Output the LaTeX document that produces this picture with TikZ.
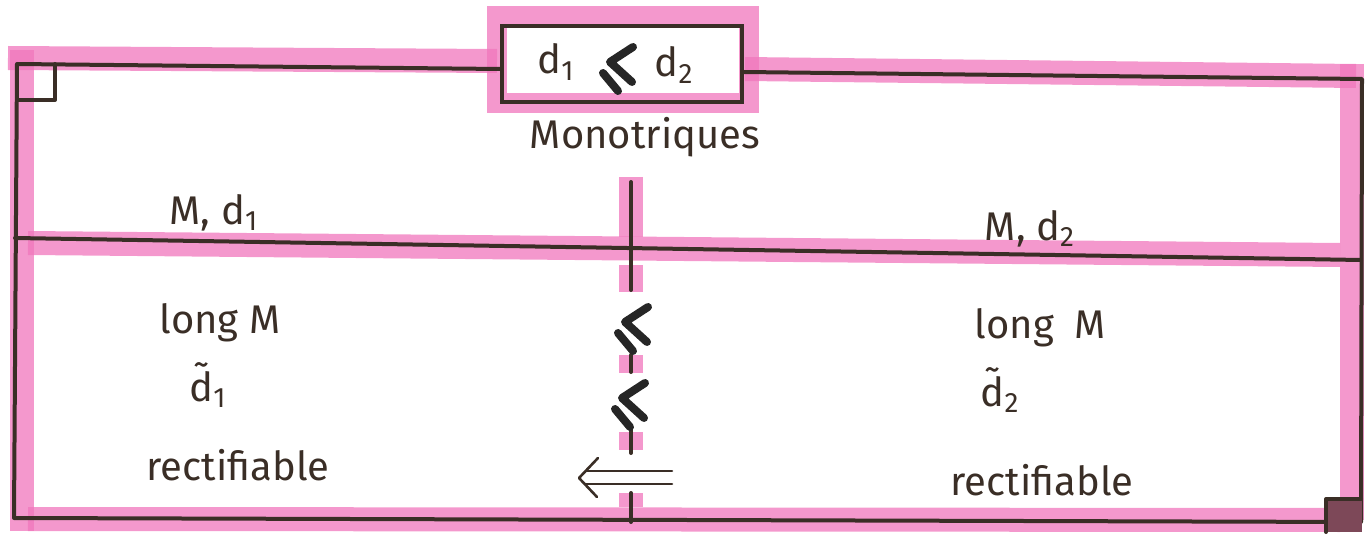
\documentclass[tikz,border=0pt]{standalone}
\usepackage{fontspec}
\setmainfont{Fira Sans}
\definecolor{ink}{RGB}{58,46,38}
\definecolor{marker}{RGB}{240,118,188}
\definecolor{cornerfill}{RGB}{125,72,88}
\tikzset{
  hl/.style={marker, line width=12pt, opacity=0.75, line cap=butt},
  inkline/.style={ink, line width=2pt, line join=round, line cap=round},
  thinink/.style={ink, line width=1.3pt, line cap=round, line join=round},
  lbl/.style={ink, font=\fontsize{20}{24}\selectfont, inner sep=0pt},
  sym/.style={black!85, line width=4pt, line cap=round, line join=round},
  pics/prec/.style={code={
    \draw[sym] (23,-15) -- (0,0) -- (22,20);
    \draw[sym] (-7,11) -- (8,29);
  }}
}
\begin{document}
\begin{tikzpicture}[x=0.5pt, y=-0.5pt]
  \useasboundingbox (0,0) rectangle (1367,540);

  % corner and junction points of the frame
  \coordinate (tl) at (17,64);
  \coordinate (bl) at (14,518);
  \coordinate (br) at (1361,522);
  \coordinate (tr) at (1362,79);
  \coordinate (ml) at (15,238);
  \coordinate (mr) at (1361,260);
  \coordinate (vtop) at (631,182);
  \coordinate (vbot) at (631,522);

  % highlighter strokes
  \draw[hl] (8,58) -- (497,61);
  \draw[hl] (745,69) -- (1356,76);
  \draw[hl] (22,50) -- (22,531);
  \draw[hl] (1352,64) -- (1352,520);
  \draw[hl] (28,519) -- (1340,520);
  \draw[hl] (28,243) -- (1340,255);
  \draw[hl, line width=10pt] (497,16) rectangle (749,103);
  \draw[hl] (631,177) -- (631,237);
  \draw[hl] (631,265) -- (631,292);
  \draw[hl] (631,355) -- (631,373);
  \draw[hl] (631,432) -- (631,450);
  \draw[hl] (631,493) -- (631,507);

  % boxed relation at the top
  \node[draw=ink, line width=2pt, minimum width=120pt, minimum height=38pt,
        inner sep=0pt] (box) at (622,64) {};
  \node[lbl] (d1) at (556,62) {d\textsubscript{1}};
  \pic at (610,62) {prec};
  \node[lbl] (d2) at (674,65) {d\textsubscript{2}};
  \node[lbl] (mono) at (645,137) {Monotriques};

  % outer frame
  \draw[inkline] (box.west |- 0,69) -- (tl) -- (bl) -- (br) -- (tr) -- (box.east |- 0,72);
  \draw[inkline] (17,100) -- (55,100) -- (55,64);
  \fill[cornerfill] (1326,499) rectangle (1362,532);
  \draw[inkline] (1326,532) -- (1326,499) -- (1361,499);

  % dividing lines
  \draw[inkline] (ml) -- (mr);
  \draw[inkline] (vtop) -- (631,290);
  \draw[inkline] (631,355) -- (631,372);
  \draw[inkline] (631,430) -- (631,453);
  \draw[inkline] (631,493) -- (vbot);

  % column headers
  \node[lbl] (h1) at (214,213) {M, d\textsubscript{1}};
  \node[lbl] (h2) at (1030,229) {M, d\textsubscript{2}};

  % left column
  \node[lbl] (l1) at (220,323) {long M};
  \node[lbl] (l2) at (208,385) {\~{d}\textsubscript{1}};
  \node[lbl] (l3) at (238,465) {rectifiable};

  % right column
  \node[lbl] (r1) at (1040,328) {long\enspace M};
  \node[lbl] (r2) at (1000,390) {\~{d}\textsubscript{2}};
  \node[lbl] (r3) at (1042,480) {rectifiable};

  % relations between the columns
  \pic at (625,322) {prec};
  \pic at (622,398) {prec};
  \coordinate (ar) at (672,471);
  \coordinate (ar2) at (672,484);
  \draw[thinink] (ar) -- (586,471);
  \draw[thinink] (ar2) -- (586,484);
  \draw[thinink] (598,458) -- (579,478) -- (597,497);
\end{tikzpicture}
\end{document}
